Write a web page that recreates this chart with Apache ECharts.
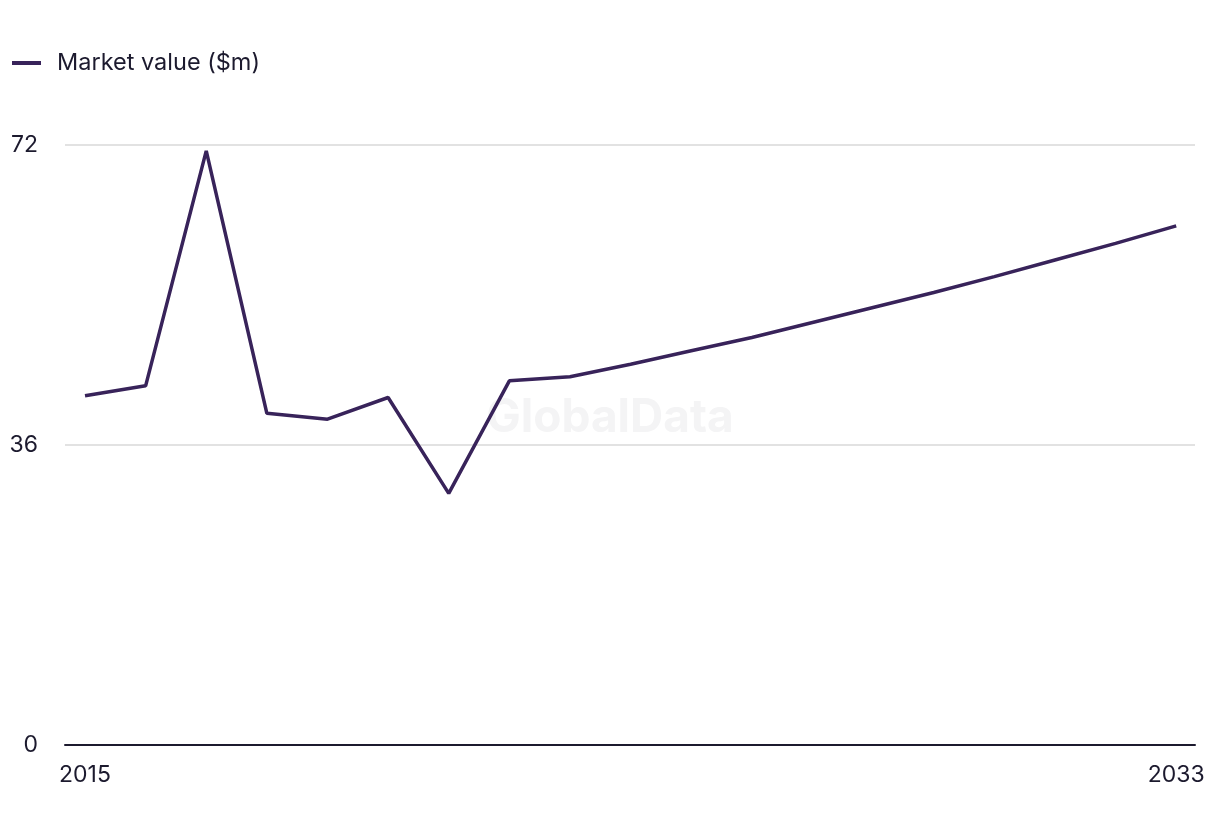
<!DOCTYPE html>
<html>
<head>
<meta charset="utf-8">
<script src="https://cdn.jsdelivr.net/npm/echarts@6/dist/echarts.min.js"></script>
<style>
html,body{margin:0;padding:0;background:#fff;}
#chart{width:1220px;height:836px;}
</style>
</head>
<body>
<div id="chart"></div>
<script>
const years = [2015,2016,2017,2018,2019,2020,2021,2022,2023,2024,2025,2026,2027,2028,2029,2030,2031,2032,2033];
const marketValue = [41.9,43.1,71.3,39.8,39.1,41.7,30.2,43.7,44.2,45.7,47.3,48.9,50.7,52.5,54.3,56.2,58.2,60.2,62.3];
const xTickLabels = [2015, 2033];
const yTicks = [0, 36, 72];
const seriesName = 'Market value ($m)';

const chart = echarts.init(document.getElementById('chart'));
const font = 'Inter, "Liberation Sans", sans-serif';
chart.setOption({
  animation: false,
  backgroundColor: '#ffffff',
  graphic: [{
    type: 'text',
    left: 'center',
    top: 395,
    z: 0,
    style: {
      text: 'GlobalData',
      font: 'bold 46px ' + font,
      fill: '#f4f4f5'
    }
  }],
  legend: {
    left: 7,
    top: 46,
    itemWidth: 29,
    itemHeight: 4,
    itemGap: 20,
    icon: 'rect',
    textStyle: { fontFamily: font, fontSize: 23.5, color: '#1c1a2e', padding: [0,0,0,11] },
    data: [seriesName]
  },
  grid: { left: 65, right: 25, top: 145, bottom: 91, containLabel: false },
  xAxis: {
    type: 'value',
    min: 2014.67,
    max: 2033.31,
    axisLine: { show: true, onZero: false, lineStyle: { color: '#1c1a2e', width: 2 } },
    axisTick: { show: false },
    splitLine: { show: false },
    axisLabel: {
      customValues: xTickLabels,
      margin: 19,
      fontFamily: font,
      fontSize: 23,
      color: '#1c1a2e',
      formatter: v => String(Math.round(v))
    }
  },
  yAxis: {
    type: 'value',
    min: yTicks[0],
    max: yTicks[yTicks.length - 1],
    interval: 36,
    axisLine: { show: false },
    axisTick: { show: false },
    splitLine: { lineStyle: { color: '#d9d9d9', width: 1.5 } },
    axisLabel: {
      margin: 27,
      fontFamily: font,
      fontSize: 23,
      color: '#1c1a2e'
    }
  },
  series: [{
    name: seriesName,
    type: 'line',
    data: years.map((y, i) => [y, marketValue[i]]),
    showSymbol: false,
    symbol: 'none',
    lineStyle: { color: '#38235a', width: 3.5 },
    itemStyle: { color: '#38235a' },
    z: 5
  }]
});
</script>
</body>
</html>
